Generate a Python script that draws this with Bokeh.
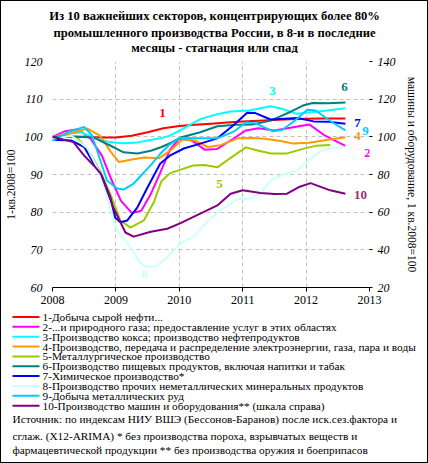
from bokeh.plotting import figure
from bokeh.models import Range1d, LinearAxis, FixedTicker
from bokeh.layouts import column
from bokeh.embed import file_html
from bokeh.resources import INLINE

FONT = "Liberation Serif"

# ---------------- data (decimal years, index 1-кв.2008=100) ----------------
x1 = [2008.0, 2008.25, 2008.5, 2008.75, 2009.0, 2009.25, 2009.5, 2009.75, 2010.0, 2010.25,
      2010.5, 2010.75, 2011.0, 2011.25, 2011.5, 2011.75, 2012.0, 2012.25, 2012.62]
y1 = [100, 100, 100, 99.8, 99.8, 100.3, 101.2, 102.3, 102.9, 103.2,
      103.5, 103.8, 104.1, 104.3, 104.5, 104.7, 104.8, 104.9, 104.9]

x2 = [2008.0, 2008.2, 2008.4, 2008.6, 2008.78, 2008.92, 2009.08, 2009.25, 2009.4, 2009.55,
      2009.7, 2009.85, 2010.0, 2010.2, 2010.4, 2010.6, 2010.85, 2011.05, 2011.25, 2011.5,
      2011.75, 2012.05, 2012.3, 2012.62]
y2 = [100, 101.5, 102, 99.5, 95, 89, 83, 79.8, 80.4, 84.8,
      90.5, 96.5, 99.5, 99, 96.6, 96.8, 99.5, 101.7, 102.3, 101.7,
      102.4, 103.3, 100.3, 97.6]

x3 = [2008.0, 2008.25, 2008.45, 2008.65, 2008.9, 2009.1, 2009.3, 2009.5, 2009.7, 2009.85,
      2010.02, 2010.33, 2010.6, 2010.81, 2011.1, 2011.44, 2011.65, 2011.85, 2012.07, 2012.3, 2012.62]
y3 = [99.5, 100.8, 101.2, 99.8, 98.6, 98.3, 98.4, 99.0, 99.6, 100.3,
      101.8, 104.7, 106.0, 106.7, 107.0, 108.1, 107.3, 106.1, 106.5, 106.9, 107.6]

x4 = [2008.0, 2008.28, 2008.55, 2008.75, 2008.92, 2009.05, 2009.25, 2009.45, 2009.68, 2009.86,
      2010.05, 2010.25, 2010.45, 2010.65, 2010.92, 2011.15, 2011.35, 2011.6, 2011.8, 2012.05,
      2012.35, 2012.62]
y4 = [100, 100.9, 102.2, 100.3, 96.0, 93.3, 94.0, 94.5, 94.3, 96.4,
      99.3, 99.0, 97.3, 97.8, 99.6, 99.7, 99.5, 98.9, 98.2, 98.4,
      99.2, 99.9]

x5 = [2008.0, 2008.2, 2008.4, 2008.6, 2008.76, 2008.91, 2009.07, 2009.23, 2009.44, 2009.6,
      2009.72, 2009.85, 2010.02, 2010.22, 2010.4, 2010.6, 2010.8, 2011.05, 2011.25, 2011.45,
      2011.7, 2011.95, 2012.15, 2012.38]
y5 = [100, 100.3, 99.6, 95.5, 90.5, 84.9, 77.8, 75.9, 77.8, 82.7,
      88.3, 90.3, 91.3, 92.4, 92.5, 91.9, 94.3, 97.2, 96.3, 95.6,
      95.6, 96.8, 97.6, 97.8]

x6 = [2008.0, 2008.3, 2008.65, 2008.91, 2009.12, 2009.34, 2009.55, 2009.72, 2009.88, 2010.02,
      2010.33, 2010.6, 2010.9, 2011.15, 2011.44, 2011.6, 2011.75, 2011.95, 2012.1, 2012.35, 2012.62]
y6 = [100, 100.1, 99.8, 97.7, 95.9, 95.6, 96.3, 97.3, 98.5, 99.8,
      101.2, 102.8, 103.2, 103.3, 104.3, 105.5, 106.6, 108.3, 109.0, 108.9, 109.1]

x7 = [2008.0, 2008.3, 2008.5, 2008.65, 2008.78, 2008.91, 2008.99, 2009.07, 2009.18, 2009.34,
      2009.5, 2009.7, 2009.85, 2010.07, 2010.33, 2010.6, 2010.85, 2011.07, 2011.2, 2011.44,
      2011.65, 2011.86, 2012.12, 2012.35, 2012.62]
y7 = [99.2, 99.0, 97.3, 92.9, 89.5, 84.0, 78.5, 77.3, 77.8, 81.3,
      86.6, 92.9, 95.0, 96.9, 98.2, 99.6, 103.0, 106.4, 106.3, 104.6,
      104.8, 105.0, 104.1, 104.0, 103.5]

x8 = [2008.0, 2008.3, 2008.55, 2008.76, 2008.94, 2009.02, 2009.23, 2009.39, 2009.5, 2009.65,
      2009.81, 2010.02, 2010.22, 2010.44, 2010.65, 2010.92, 2011.12, 2011.28, 2011.44, 2011.65,
      2011.86, 2012.04, 2012.23, 2012.38, 2012.62]
y8 = [99.5, 100.3, 97.0, 90.0, 79.1, 75.1, 70.7, 66.4, 65.4, 65.8,
      68.0, 71.8, 73.5, 77.4, 80.6, 83.4, 83.6, 85.0, 88.4, 90.0,
      91.1, 93.7, 96.2, 97.1, 97.2]

x9 = [2008.0, 2008.25, 2008.5, 2008.62, 2008.7, 2008.86, 2009.02, 2009.12, 2009.28, 2009.55,
      2009.7, 2009.85, 2010.02, 2010.33, 2010.6, 2010.85, 2011.05, 2011.2, 2011.47, 2011.62,
      2011.8, 2012.02, 2012.15, 2012.4, 2012.62]
y9 = [99.0, 101.3, 102.6, 100.5, 96.5, 88.4, 86.3, 86.0, 87.6, 92.5,
      95.5, 98.0, 99.7, 99.6, 99.6, 101.3, 103.8, 103.6, 101.5, 101.8,
      104.0, 107.2, 107.0, 104.0, 101.7]

# series 10 is on the right-hand scale
x10 = [2008.0, 2008.33, 2008.5, 2008.65, 2008.76, 2008.96, 2009.15, 2009.28, 2009.55, 2009.81,
       2010.02, 2010.33, 2010.6, 2010.81, 2011.0, 2011.28, 2011.5, 2011.7, 2011.9, 2012.07,
       2012.38, 2012.62]
y10 = [100, 97.2, 90.0, 84.8, 80.6, 62.4, 49.2, 47.0, 49.6, 51.2,
       54.2, 59.2, 63.6, 69.8, 71.6, 70.2, 69.6, 69.8, 73.5, 75.4,
       71.6, 69.8]

names = ["1-Добыча сырой нефти...",
         "2-...и природного газа; предоставление услуг в этих областях",
         "3-Производство кокса; производство нефтепродуктов",
         "4-Производство, передача и распределение электроэнергии, газа, пара и воды",
         "5-Металлургическое производство",
         "6-Производство пищевых продуктов, включая напитки и табак",
         "7-Химическое производство*",
         "8-Производство прочих неметаллических минеральных продуктов",
         "9-Добыча металлических руд",
         "10-Производство машин и оборудования** (шкала справа)"]
colors = ["#FF0000", "#FF00FF", "#00FFFF", "#FF9900", "#99CC00",
          "#008080", "#0000FF", "#CCFFFF", "#00CCFF", "#800080"]
label_colors = ["#FF0000", "#FF00FF", "#00FFFF", "#FF9900", "#99CC00",
                "#008080", "#0000FF", "#CCFFFF", "#00CCFF", "#993366"]
year_ticks = [2008, 2009, 2010, 2011, 2012, 2013]
left_ticks = [60, 70, 80, 90, 100, 110, 120]
right_ticks = [20, 40, 60, 80, 100, 120, 140]

title_lines = ["Из 10 важнейших секторов, концентрирующих более 80%",
               "промышленного производства России, в 8-и в последние",
               "месяцы - стагнация или спад"]
left_title = "1-кв.2008=100"
right_title = "машины и оборудование, 1 кв.2008=100"
source_lines = ["Источник: по индексам НИУ ВШЭ (Бессонов-Баранов) после иск.сез.фактора и",
                "сглаж. (X12-ARIMA) * без производства пороха, взрывчатых веществ и",
                "фармацевтической продукции ** без производства оружия и боеприпасов"]

series = [(x1, y1), (x2, y2), (x3, y3), (x4, y4), (x5, y5),
          (x6, y6), (x7, y7), (x8, y8), (x9, y9), (x10, y10)]

# ---------------- layout (positions, not data) ----------------
num_x = [2009.735, 2012.968, 2011.47, 2012.81, 2010.634, 2012.606, 2012.81, 2009.451, 2012.937, 2012.858]
num_y = [106.2, 95.84, 112.04, 100.09, 87.61, 113.1, 103.8, 63.46, 101.68, 84.69]

W = 426
HT = 52
H1 = 257
H2 = 152
SMALL = "11.3px"


def fonts(n):
    return [FONT] * n


# ---------------- title panel ----------------
pt = figure(width=W, height=HT, x_range=Range1d(0, W), y_range=Range1d(HT, 0),
            output_backend="svg", toolbar_location=None,
            x_axis_type=None, y_axis_type=None, min_border=0)
pt.frame_align = False
pt.outline_line_color = None
pt.grid.visible = False
pt.text(x=[213, 213, 213], y=[14.5, 31, 46], text=title_lines, text_font=fonts(3),
        text_font_style="bold", text_font_size="12.6px", text_color="black",
        text_align="center", text_baseline="middle")

# ---------------- chart ----------------
p = figure(width=W, height=H1, x_range=Range1d(2008, 2013), y_range=Range1d(60, 120),
           output_backend="svg", toolbar_location=None,
           min_border_left=51, min_border_right=58, min_border_top=8, min_border_bottom=23)
p.frame_align = False
p.outline_line_color = None
p.extra_y_ranges = {"right": Range1d(20, 140)}

for g in (p.xgrid[0], p.ygrid[0]):
    g.grid_line_color = "#C0C0C0"
    g.grid_line_dash = "4 3"
    g.grid_line_width = 1
p.xgrid[0].ticker = FixedTicker(ticks=year_ticks)
p.ygrid[0].ticker = FixedTicker(ticks=left_ticks)

xa = p.xaxis[0]
xa.ticker = FixedTicker(ticks=year_ticks)
xa.axis_line_color = "black"
xa.major_tick_line_color = "black"
xa.major_tick_out = 4
xa.major_tick_in = 0
xa.minor_tick_line_color = None
xa.major_label_text_font = FONT
xa.major_label_text_font_size = "12px"
xa.major_label_text_color = "black"
xa.major_label_standoff = 4

ya = p.yaxis[0]
ya.ticker = FixedTicker(ticks=left_ticks)
ya.axis_line_color = None
ya.major_tick_line_color = None
ya.major_tick_out = 0
ya.major_tick_in = 0
ya.minor_tick_line_color = None
ya.major_label_text_font = FONT
ya.major_label_text_font_style = "italic"
ya.major_label_text_font_size = "12px"
ya.major_label_text_color = "black"
ya.major_label_standoff = 10
ya.axis_label = left_title + "\u00a0" * 7
ya.axis_label_text_font = FONT
ya.axis_label_text_font_style = "normal"
ya.axis_label_text_font_size = "11.5px"
ya.axis_label_text_color = "black"
ya.axis_label_standoff = 5

ra = LinearAxis(y_range_name="right", ticker=FixedTicker(ticks=right_ticks))
ra.axis_line_color = None
ra.major_tick_line_color = "black"
ra.major_tick_out = 3
ra.major_tick_in = 0
ra.minor_tick_line_color = None
ra.major_label_text_font = FONT
ra.major_label_text_font_style = "italic"
ra.major_label_text_font_size = "12px"
ra.major_label_text_color = "black"
ra.major_label_standoff = 5
ra.axis_label = right_title
ra.axis_label_text_font = FONT
ra.axis_label_text_font_style = "normal"
ra.axis_label_text_font_size = "11.5px"
ra.axis_label_text_color = "black"
ra.axis_label_standoff = 7
p.add_layout(ra, "right")

for i, (xs, ys) in enumerate(series):
    if i == 9:
        p.line(xs, ys, line_color=colors[i], line_width=2, y_range_name="right")
    else:
        p.line(xs, ys, line_color=colors[i], line_width=2)

p.text(x=num_x, y=num_y, text=[str(i + 1) for i in range(10)], text_color=label_colors,
       text_font=fonts(10), text_font_style="bold", text_font_size="13px",
       text_align="center", text_baseline="middle")

# ---------------- legend + source panel ----------------
p2 = figure(width=W, height=H2, x_range=Range1d(0, W), y_range=Range1d(H2, 0),
            output_backend="svg", toolbar_location=None,
            x_axis_type=None, y_axis_type=None, min_border=0)
p2.frame_align = False
p2.outline_line_color = None
p2.grid.visible = False

row_y = [6.5 + 9.85 * i for i in range(len(names))]
p2.segment(x0=[11] * len(names), x1=[38] * len(names), y0=row_y, y1=row_y,
           line_color=colors, line_width=2)
p2.text(x=[41] * len(names), y=row_y, text=names, text_font=fonts(len(names)),
        text_font_size=SMALL, text_color="black", text_baseline="middle", text_align="left")

src_y = [108, 125.5, 139]
p2.text(x=[11] * 3, y=src_y, text=source_lines, text_font=fonts(3),
        text_font_size=SMALL, text_color="black", text_baseline="middle", text_align="left")

layout = column(pt, p, p2, spacing=0, styles={"border": "1px solid black"})
open("out.html", "w").write(file_html(layout, INLINE))
